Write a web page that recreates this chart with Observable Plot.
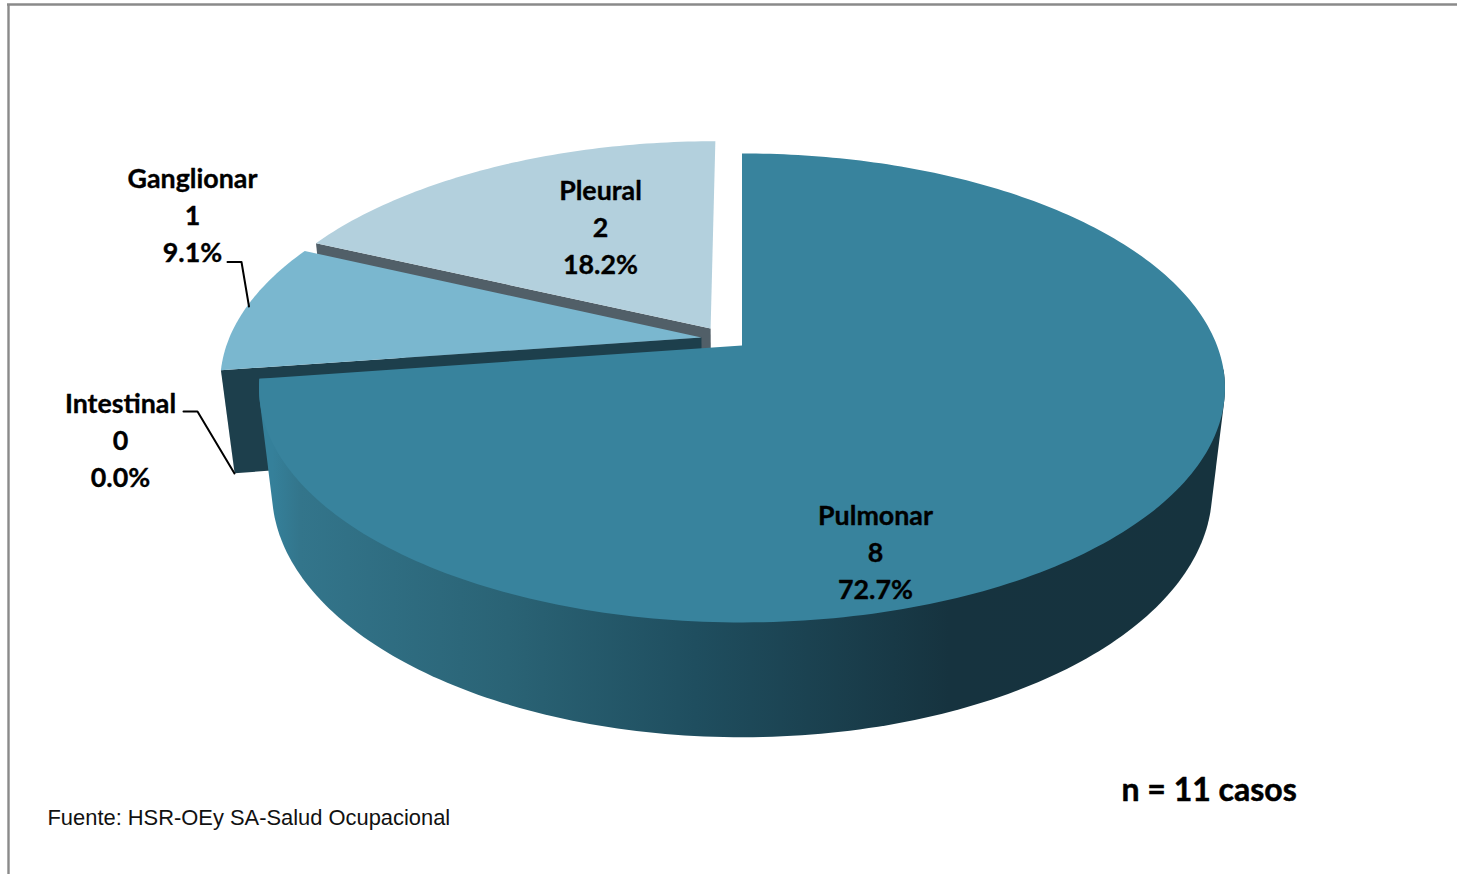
<!DOCTYPE html>
<html lang="es">
<head>
<meta charset="utf-8">
<title>Casos por localización</title>
<script src="https://cdn.jsdelivr.net/npm/d3@7"></script>
<script src="https://cdn.jsdelivr.net/npm/@observablehq/plot@0.6"></script>
<style>
  html, body { margin: 0; padding: 0; background: #fff; overflow: hidden; }
  svg { display: block; }
</style>
</head>
<body>
<div id="chart"></div>
<script>
// --- Data ---
const sliceNames  = ["Pulmonar", "Intestinal", "Ganglionar", "Pleural"];
const sliceCounts = [8, 0, 1, 2];
const totalNote   = "n = 11 casos";
const sourceNote  = "Fuente: HSR-OEy SA-Salud Ocupacional";

// --- Styling ---
const topColors  = {Pulmonar: "#38839d", Ganglionar: "#7ab7cf", Pleural: "#b3d0dd"};
const wallColors = {Ganglionar: "#1d3f4c", Pleural: "#515f68"};
const sideStops  = [[0, "#35809a"], [0.03, "#33758b"], [0.25, "#2a6375"], [0.45, "#1f4e5f"], [0.72, "#16333f"], [1, "#16333e"]];

// --- Layout: the perspective camera of the 3-D pie and the explode offsets ---
const W = 1457, H = 874;
const apex = [741.5, 345], radiusX = 475, radiusY = 226.8, tilt = 0.181, depth = 104.4, depthW = 0.0265;
const explode = {Pulmonar: [0, 0], Intestinal: [0, 0], Ganglionar: [-0.086, -0.0354], Pleural: [-0.067, -0.076]};
const labelAt = {Pulmonar: [875, 549.5], Intestinal: [120, 437.5], Ganglionar: [192, 212.5], Pleural: [600, 224.5]};
const leaders = {
  Ganglionar: [[227, 261.5], [241, 261.5], [248.5, 306]],
  Intestinal: [[183, 411], [197, 411], [234, 473]]
};
const frontFrom = 95 * Math.PI / 180; // the outer wall is seen only past this angle

// Projects a point on the unit disc (u, v) at extrusion level z to page coordinates.
function project(u, v, z) {
  const w = 1 - tilt * v + depthW * z;
  return {x: apex[0] + radiusX * u / w, y: apex[1] + (radiusY * v + depth * z) / w};
}
const total = d3.sum(sliceCounts);
let running = 0;
const slices = sliceNames.map((name, i) => {
  const a0 = running / total * 2 * Math.PI;
  running += sliceCounts[i];
  return {name, count: sliceCounts[i], a0, a1: running / total * 2 * Math.PI, off: explode[name]};
});
const rim = (s, a, z, r = 1) => project(s.off[0] + r * Math.sin(a), s.off[1] - r * Math.cos(a), z);
const angles = s => {
  const n = Math.max(2, Math.ceil((s.a1 - s.a0) / (Math.PI / 180)));
  return d3.range(n + 1).map(i => s.a0 + (s.a1 - s.a0) * i / n);
};
const topFace = s => [rim(s, 0, 0, 0), ...angles(s).map(a => rim(s, a, 0))];
const wall = (s, a) => [rim(s, a, 0, 0), rim(s, a, 0), rim(s, a, 1), rim(s, a, 1, 0)];
// The outer wall's silhouette: convex hull of the front part of both rims.
const sideFace = s => {
  const front = angles(s).filter(a => a >= frontFrom);
  const pts = front.flatMap(a => [rim(s, a, 0), rim(s, a, 1)]);
  return d3.polygonHull(pts.map(p => [p.x, p.y])).map(([x, y]) => ({x, y}));
};
const byName = Object.fromEntries(slices.map(s => [s.name, s]));
const pul = byName.Pulmonar, gan = byName.Ganglionar, ple = byName.Pleural;

const polygon = (pts, fill) => Plot.line(pts, {x: "x", y: "y", fill, stroke: "none"});

const gradientDefs = () => {
  const defs = d3.create("svg:defs");
  const g = defs.append("linearGradient").attr("id", "side")
    .attr("gradientUnits", "userSpaceOnUse")
    .attr("x1", 272).attr("x2", 1212).attr("y1", 0).attr("y2", 0);
  sideStops.forEach(([o, c]) => g.append("stop").attr("offset", o).attr("stop-color", c));
  return defs.node();
};

const labelRows = slices.map(s => ({
  x: labelAt[s.name][0], y: labelAt[s.name][1],
  text: `${s.name}\n${s.count}\n${d3.format(".1%")(s.count / total)}`
}));
const leaderRows = Object.entries(leaders).flatMap(([name, pts]) => pts.map(([x, y]) => ({name, x, y})));

const chart = Plot.plot({
  width: W, height: H, margin: 0,
  style: {background: "#fff"},
  x: {domain: [0, W], range: [0, W], axis: null},
  y: {domain: [0, H], range: [0, H], axis: null},
  marks: [
    gradientDefs,
    Plot.ruleX([8], {y1: 4, y2: H, stroke: "#8a8a8a", strokeWidth: 2.4}),
    Plot.ruleY([4], {x1: 7, x2: W, stroke: "#8a8a8a", strokeWidth: 2.4}),
    // Back to front
    polygon(wall(ple, ple.a0), wallColors.Pleural),
    polygon(topFace(ple), topColors.Pleural),
    polygon(wall(gan, gan.a0), wallColors.Ganglionar),
    polygon(topFace(gan), topColors.Ganglionar),
    polygon(sideFace(pul), "url(#side)"),
    polygon(topFace(pul), topColors.Pulmonar),
    Plot.line(leaderRows, {x: "x", y: "y", z: "name", stroke: "#000", strokeWidth: 2}),
    Plot.text(labelRows, {
      x: "x", y: "y", text: "text", lineHeight: 1.39, textAnchor: "middle",
      fontFamily: "Lato", fontWeight: 700, fontSize: 26.8, fill: "#000", stroke: "#000", strokeWidth: 0.35
    }),
    Plot.text([totalNote], {
      x: () => 1121, y: () => 790, text: d => d, textAnchor: "start",
      fontFamily: "Lato", fontWeight: 700, fontSize: 32, fill: "#000", stroke: "#000", strokeWidth: 0.5
    }),
    Plot.text([sourceNote], {
      x: () => 47, y: () => 817, text: d => d, textAnchor: "start",
      fontFamily: "Liberation Sans", fontSize: 21.9, fill: "#111"
    })
  ]
});
document.getElementById("chart").appendChild(chart);
</script>
</body>
</html>
